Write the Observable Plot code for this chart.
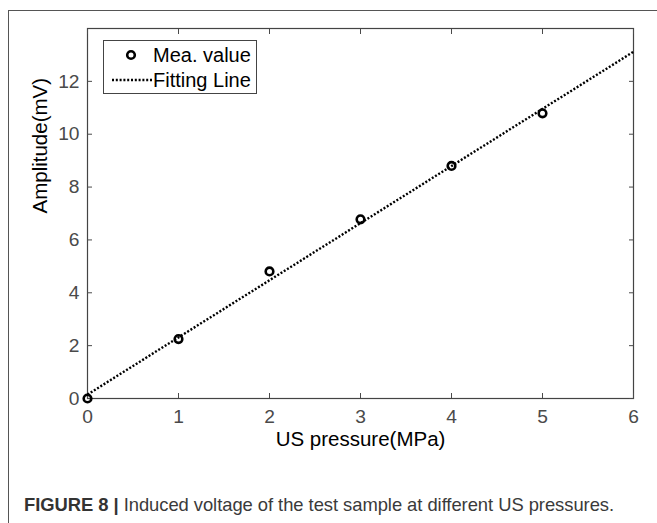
<!DOCTYPE html>
<html>
<head>
<meta charset="utf-8">
<script src="https://cdn.jsdelivr.net/npm/d3@7"></script>
<script src="https://cdn.jsdelivr.net/npm/@observablehq/plot@0.6"></script>
<style>
  html, body { margin: 0; padding: 0; background: #fff; }
  #wrap { position: relative; width: 657px; height: 523px; overflow: hidden; font-family: "Liberation Sans", Arial, sans-serif; }
  #border { position: absolute; left: 8px; top: 10px; width: 660px; height: 520px; border-left: 1.5px solid #555; border-top: 1.5px solid #555; }
  #chart { position: absolute; left: 0; top: 0; }
  #legend { position: absolute; left: 103px; top: 40px; width: 154px; height: 54px; border: 1px solid #444; background: #fff; box-sizing: border-box; font-size: 20px; color: #000; }
  .lrow { position: absolute; left: 0; height: 24px; line-height: 24px; white-space: nowrap; }
  .lrow span { position: absolute; left: 49px; }
  #caption { position: absolute; left: 24px; top: 494px; font-size: 18.4px; color: #3a3a3a; white-space: nowrap; letter-spacing: -0.05px; }
  #caption b { color: #333; }
</style>
</head>
<body>
<div id="wrap">
  <div id="border"></div>
  <div id="chart"></div>
  <div id="legend">
    <div class="lrow" style="top:2px;width:150px">
      <svg width="48" height="24" style="position:absolute;left:0;top:0"><circle cx="27" cy="12" r="3.8" fill="none" stroke="#000" stroke-width="2.6"/></svg>
      <span>Mea. value</span>
    </div>
    <div class="lrow" style="top:27px;width:150px">
      <svg width="48" height="24" style="position:absolute;left:0;top:0"><line x1="8" y1="12" x2="48" y2="12" stroke="#000" stroke-width="2.4" stroke-dasharray="2 1.8" stroke-linecap="butt"/></svg>
      <span>Fitting Line</span>
    </div>
  </div>
  <div id="caption"><b>FIGURE 8 |</b> Induced voltage of the test sample at different US pressures.</div>
</div>
<script>
// Measured values
const pressure = [0, 1, 2, 3, 4, 5];
const amplitude = [0, 2.25, 4.81, 6.78, 8.8, 10.79];
// Fitting line endpoints
const fitPressure = [0, 6];
const fitAmplitude = [0.15, 13.12];
// Tick labels
const xTicks = [0, 1, 2, 3, 4, 5, 6];
const yTicks = [0, 2, 4, 6, 8, 10, 12];
const xLabel = "US pressure(MPa)";
const yLabel = "Amplitude(mV)";

const measured = pressure.map((p, i) => ({p, a: amplitude[i]}));
const fit = fitPressure.map((p, i) => ({p, a: fitAmplitude[i]}));

const tickColor = "#4a4a4a";
const chart = Plot.plot({
  width: 657,
  height: 470,
  marginLeft: 87,
  marginRight: 24,
  marginTop: 28,
  marginBottom: 72,
  style: {fontFamily: "Liberation Sans, Arial, sans-serif", fontSize: "19px", color: "#444", background: "transparent"},
  x: {domain: [0, 6]},
  y: {domain: [0, 14]},
  marks: [
    Plot.frame({stroke: "#444", strokeWidth: 1.2}),
    // labels
    Plot.axisX(xTicks, {anchor: "bottom", tickSize: 0, tickPadding: 11, label: null, fill: tickColor, fontSize: 19.2}),
    Plot.axisY(yTicks, {anchor: "left", tickSize: 0, tickPadding: 8, label: null, fill: tickColor, fontSize: 19.2}),
    // inward ticks
    Plot.axisX(xTicks, {anchor: "bottom", tickSize: -5, text: null, label: null, stroke: tickColor}),
    Plot.axisX(xTicks, {anchor: "top", tickSize: -5, text: null, label: null, stroke: tickColor}),
    Plot.axisY(yTicks, {anchor: "left", tickSize: -5, text: null, label: null, stroke: tickColor}),
    Plot.axisY(yTicks, {anchor: "right", tickSize: -5, text: null, label: null, stroke: tickColor}),
    // axis titles
    Plot.text([xLabel], {frameAnchor: "bottom", dy: 47, text: d => d, fontSize: 20.5, fill: "#000"}),
    Plot.text([yLabel], {frameAnchor: "left", dx: -47, rotate: -90, text: d => d, fontSize: 20.5, fill: "#000"}),
    // data
    Plot.line(fit, {x: "p", y: "a", stroke: "#000", strokeWidth: 2.4, strokeDasharray: "2 1.8", strokeLinecap: "butt"}),
    Plot.dot(measured, {x: "p", y: "a", r: 3.8, stroke: "#000", strokeWidth: 2.6, fill: "none"})
  ]
});
document.getElementById("chart").appendChild(chart);
</script>
</body>
</html>
